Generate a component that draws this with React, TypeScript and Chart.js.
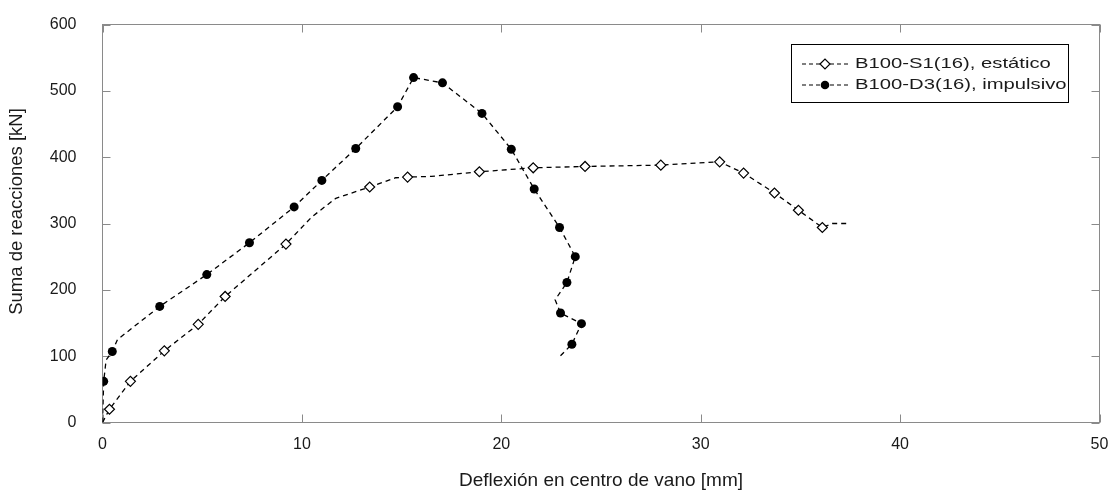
import React, { useEffect, useRef } from 'react';
import { Chart, registerables } from 'chart.js';

Chart.register(...registerables);

// ---- data ----
const xTickValues = [0, 10, 20, 30, 40, 50];
const yTickValues = [0, 100, 200, 300, 400, 500, 600];

const seriesNames = ['B100-S1(16), estático', 'B100-D3(16), impulsivo'];
const xTitle = 'Deflexión en centro de vano [mm]';
const yTitle = 'Suma de reacciones [kN]';

// static test: full dashed curve
const staticCurveX = [0, 0.35, 1.4, 3.1, 4.8, 6.15, 9.2, 10.5, 11.7, 13.4, 14.7, 15.3, 16.5, 18.9, 21.6, 24.2, 28.0, 30.95, 32.15, 33.7, 34.9, 36.1, 36.6, 37.3];
const staticCurveY = [0, 20, 62, 108, 148, 190, 269, 310, 338, 355, 369, 370, 371, 378, 384, 386, 388, 393, 376, 346, 320, 294, 300, 300];
// static test: marked points (diamonds)
const staticMarkX = [0.35, 1.4, 3.1, 4.8, 6.15, 9.2, 13.4, 15.3, 18.9, 21.6, 24.2, 28.0, 30.95, 32.15, 33.7, 34.9, 36.1];
const staticMarkY = [20, 62, 108, 148, 190, 269, 355, 370, 378, 384, 386, 388, 393, 376, 346, 320, 294];

// impulsive test: full dashed curve
const impulsiveCurveX = [0, 0.06, 0.18, 0.49, 0.75, 2.87, 5.23, 7.37, 9.61, 11.0, 12.7, 14.8, 15.6, 17.05, 19.03, 20.5, 21.65, 22.92, 23.71, 23.29, 22.7, 22.97, 24.02, 23.54, 22.95];
const impulsiveCurveY = [0, 62, 94, 107, 125, 175, 223, 271, 325, 365, 413, 476, 520, 512, 466, 412, 352, 294, 250, 211, 185, 165, 149, 118, 100];
// impulsive test: marked points (filled circles)
const impulsiveMarkX = [0.06, 0.49, 2.87, 5.23, 7.37, 9.61, 11.0, 12.7, 14.8, 15.6, 17.05, 19.03, 20.5, 21.65, 22.92, 23.71, 23.29, 22.97, 24.02, 23.54];
const impulsiveMarkY = [62, 107, 175, 223, 271, 325, 365, 413, 476, 520, 512, 466, 412, 352, 294, 250, 211, 165, 149, 118];

const toPoints = (xs: number[], ys: number[]) => xs.map((x, i) => ({ x, y: ys[i] }));

const FONT = "'Liberation Sans', Arial, sans-serif";
const FRAME = '#8a8a8a';
const TEXT = '#1a1a1a';

const decorPlugin = {
  id: 'decor',
  beforeDatasetsDraw(chart: any) {
    const { ctx, chartArea } = chart;
    const xs = chart.scales.x;
    const ys = chart.scales.y;
    const { left, right, top, bottom } = chartArea;
    ctx.save();
    ctx.strokeStyle = FRAME;
    ctx.lineWidth = 1;
    ctx.setLineDash([]);
    ctx.strokeRect(left, top, right - left, bottom - top);
    const t = 8;
    ctx.beginPath();
    xTickValues.forEach((v) => {
      const px = Math.round(xs.getPixelForValue(v)) + 0.5;
      ctx.moveTo(px, bottom);
      ctx.lineTo(px, bottom - t);
      ctx.moveTo(px, top);
      ctx.lineTo(px, top + t);
    });
    yTickValues.forEach((v) => {
      const py = Math.round(ys.getPixelForValue(v)) + 0.5;
      ctx.moveTo(left, py);
      ctx.lineTo(left + t, py);
      ctx.moveTo(right, py);
      ctx.lineTo(right - t, py);
    });
    ctx.stroke();
    ctx.restore();
  },
  afterDraw(chart: any) {
    const { ctx, chartArea } = chart;
    ctx.save();
    // y axis title
    ctx.fillStyle = TEXT;
    ctx.font = `18.5px ${FONT}`;
    ctx.textAlign = 'center';
    ctx.textBaseline = 'middle';
    ctx.translate(17, (chartArea.top + chartArea.bottom) / 2 - 12);
    ctx.rotate(-Math.PI / 2);
    ctx.fillText(yTitle, 0, 0);
    ctx.restore();

    // legend
    ctx.save();
    const bx = 791.5, by = 44.5, bw = 277, bh = 58;
    ctx.fillStyle = '#ffffff';
    ctx.fillRect(bx, by, bw, bh);
    ctx.strokeStyle = '#000000';
    ctx.lineWidth = 1;
    ctx.strokeRect(bx, by, bw, bh);
    seriesNames.forEach((name, i) => {
      const y = 64 + 21 * i;
      ctx.strokeStyle = '#000';
      ctx.lineWidth = 1.2;
      ctx.setLineDash([4, 3]);
      ctx.beginPath();
      ctx.moveTo(802, y);
      ctx.lineTo(851, y);
      ctx.stroke();
      ctx.setLineDash([]);
      const mx = 825;
      if (i === 0) {
        ctx.beginPath();
        ctx.moveTo(mx - 5, y);
        ctx.lineTo(mx, y - 5);
        ctx.lineTo(mx + 5, y);
        ctx.lineTo(mx, y + 5);
        ctx.closePath();
        ctx.fillStyle = '#fff';
        ctx.fill();
        ctx.stroke();
      } else {
        ctx.beginPath();
        ctx.arc(mx, y, 4.3, 0, Math.PI * 2);
        ctx.fillStyle = '#000';
        ctx.fill();
      }
      ctx.save();
      ctx.fillStyle = TEXT;
      ctx.font = `15px ${FONT}`;
      ctx.textAlign = 'left';
      ctx.textBaseline = 'middle';
      ctx.translate(855, y);
      ctx.scale(1.35, 1);
      ctx.fillText(name, 0, 0);
      ctx.restore();
    });
    ctx.restore();
  },
};

const noPad = (s: any) => {
  s.paddingTop = 0;
  s.paddingBottom = 0;
  s.paddingLeft = 0;
  s.paddingRight = 0;
};

export default function App() {
  const ref = useRef<HTMLCanvasElement | null>(null);

  useEffect(() => {
    if (!ref.current) return;
    const lineCommon = {
      showLine: true,
      borderColor: '#000',
      borderWidth: 1.3,
      borderDash: [5, 4],
      pointRadius: 0,
      pointHoverRadius: 0,
      fill: false,
      tension: 0,
      order: 2,
    };
    const chart = new Chart(ref.current, {
      type: 'scatter',
      data: {
        datasets: [
          {
            label: seriesNames[0] + ' marks',
            data: toPoints(staticMarkX, staticMarkY),
            showLine: false,
            pointStyle: 'rectRot',
            pointRadius: 5,
            pointBackgroundColor: '#fff',
            pointBorderColor: '#000',
            pointBorderWidth: 1.2,
            order: 0,
          },
          {
            label: seriesNames[1] + ' marks',
            data: toPoints(impulsiveMarkX, impulsiveMarkY),
            showLine: false,
            pointStyle: 'circle',
            pointRadius: 4.5,
            pointBackgroundColor: '#000',
            pointBorderColor: '#000',
            pointBorderWidth: 0,
            order: 0,
          },
          { label: seriesNames[0], data: toPoints(staticCurveX, staticCurveY), ...lineCommon },
          { label: seriesNames[1], data: toPoints(impulsiveCurveX, impulsiveCurveY), ...lineCommon },
        ],
      },
      options: {
        animation: false,
        responsive: true,
        maintainAspectRatio: false,
        devicePixelRatio: 1,
        events: [],
        layout: { padding: { left: 0, top: 24.5, right: 13.5, bottom: 0 } },
        plugins: { legend: { display: false }, tooltip: { enabled: false } },
        scales: {
          x: {
            type: 'linear',
            min: 0,
            max: 50,
            grid: { display: false, drawTicks: false },
            border: { display: false },
            afterBuildTicks: (s: any) => {
              s.ticks = xTickValues.map((v) => ({ value: v }));
            },
            ticks: { padding: 12, color: TEXT, font: { family: FONT, size: 16 }, maxRotation: 0, autoSkip: false },
            title: {
              display: true,
              text: xTitle,
              color: TEXT,
              font: { family: FONT, size: 19 },
              padding: { top: 0, bottom: -1 },
            },
            afterFit: (s: any) => {
              s.height = 68.5;
              noPad(s);
            },
          },
          y: {
            type: 'linear',
            min: 0,
            max: 600,
            grid: { display: false, drawTicks: false },
            border: { display: false },
            afterBuildTicks: (s: any) => {
              s.ticks = yTickValues.map((v) => ({ value: v }));
            },
            ticks: { padding: 26, color: TEXT, font: { family: FONT, size: 16 }, autoSkip: false },
            afterFit: (s: any) => {
              s.width = 102.5;
              noPad(s);
            },
          },
        },
      },
      plugins: [decorPlugin],
    } as any);
    return () => chart.destroy();
  }, []);

  return (
    <div style={{ position: 'fixed', left: 0, top: 0, width: 1113, height: 491, background: '#fff' }}>
      <canvas ref={ref} />
    </div>
  );
}
